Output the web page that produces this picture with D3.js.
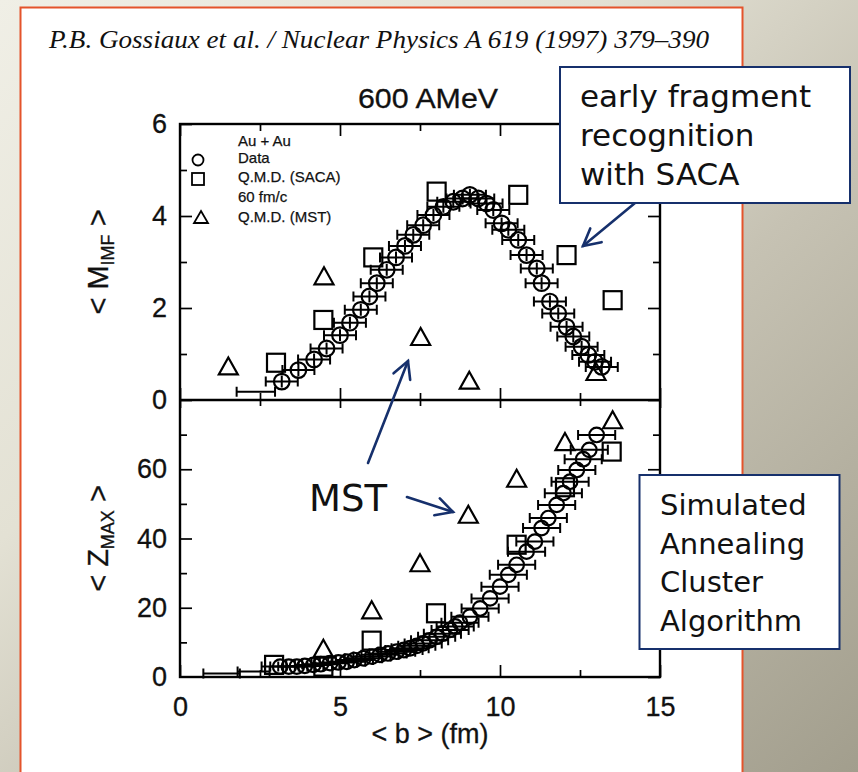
<!DOCTYPE html>
<html>
<head>
<meta charset="utf-8">
<script src="https://cdn.jsdelivr.net/npm/d3@7"></script>
<style>
  html, body { margin: 0; padding: 0; overflow: hidden; background: #e4e2d5; }
</style>
</head>
<body>
<svg id="chart" width="858" height="772"></svg>
<script>
// ---------------- data: Au + Au at 600 AMeV ----------------
// each entry: [<b> (fm), value]
const imfData = [
  [3.18,0.40],[3.70,0.65],[4.19,0.88],[4.58,1.12],[5.00,1.41],[5.31,1.68],
  [5.65,1.96],[5.92,2.25],[6.15,2.54],[6.46,2.83],[6.75,3.10],[7.03,3.35],
  [7.29,3.59],[7.60,3.80],[7.92,4.02],[8.23,4.20],[8.54,4.31],[8.83,4.38],
  [9.06,4.46],[9.32,4.38],[9.58,4.27],[9.79,4.13],[10.05,3.84],[10.26,3.70],
  [10.57,3.48],[10.83,3.15],[11.15,2.86],[11.30,2.54],[11.56,2.14],[11.82,1.88],
  [12.08,1.59],[12.29,1.38],[12.55,1.16],[12.76,0.98],[12.97,0.83],[13.18,0.72]
];
const imfSaca = [[3.00,0.81],[4.48,1.74],[6.04,3.10],[8.02,4.53],[10.57,4.46],[12.08,3.15],[13.52,2.17]];
const imfMst  = [[1.51,0.74],[4.50,2.70],[7.52,1.38],[9.04,0.43],[13.00,0.62]];
// lowest impact-parameter bin, shown with its error bar only: [b, value, half width]
const imfLowBins = [[2.37,0.18,0.60]];

const zmaxData = [
  [3.13,3.0],[3.40,3.0],[3.65,3.0],[3.90,3.2],[4.17,3.5],[4.40,3.7],[4.69,4.0],
  [4.95,4.2],[5.21,4.4],[5.45,4.9],[5.73,5.4],[6.00,5.9],[6.25,6.4],[6.50,6.8],
  [6.77,7.3],[7.00,7.8],[7.19,8.3],[7.40,9.0],[7.60,9.7],[7.80,10.6],[8.02,11.6],
  [8.20,12.5],[8.44,13.6],[8.60,14.6],[8.75,15.7],[9.06,17.4],[9.38,19.8],[9.69,22.7],
  [10.00,26.1],[10.26,29.5],[10.52,32.4],[10.83,36.2],[11.09,39.1],[11.30,43.0],
  [11.51,45.9],[11.77,49.7],[11.98,53.1],[12.19,56.4],[12.40,59.8],[12.60,62.9],
  [12.79,65.6],[13.02,69.9]
];
const zmaxSaca = [[2.94,3.5],[4.48,3.0],[5.99,10.5],[8.00,18.4],[10.52,38.2],[12.03,54.8],[13.49,65.1]];
const zmaxMst  = [[4.48,8.3],[5.99,19.4],[7.50,33.0],[9.01,47.0],[10.52,57.4],[12.03,68.0],[13.52,74.3]];
const zmaxLowBins = [[1.30,1.0,0.57],[2.30,1.6,0.50]];

// error bar half widths in <b> (fm) and in the panel value
const imfErrB = 0.5, imfErrV = 0.13;
const zmaxErrB = 0.58, zmaxErrV = 0;

// axis ticks
const bTicks = [0, 5, 10, 15];
const bMinor = [2.5, 7.5, 12.5];
const imfTicks = [0, 2, 4, 6];
const imfMinor = [1, 3, 5];
const zTicks = [0, 20, 40, 60];
const zMinor = [10, 30, 50, 70];

// text
const headerText = "P.B. Gossiaux et al. / Nuclear Physics A 619 (1997) 379\u2013390";
const titleText = "600 AMeV";
const legendLines = ["Au + Au", "Data", "Q.M.D. (SACA)", "60 fm/c", "Q.M.D. (MST)"];
const sacaNote = ["early fragment", "recognition", "with SACA"];
const acronymNote = ["Simulated", "Annealing", "Cluster", "Algorithm"];

// ---------------- layout ----------------
const W = 858, H = 772;
const frame = { left: 180, right: 660, top: 124, mid: 400, bottom: 677 };
const SANS = "'Liberation Sans', Arial, Helvetica, sans-serif";
const NOTE = "'DejaVu Sans', Verdana, sans-serif";
const NAVY = "#16306c";

const svg = d3.select("#chart");

// slide background and page
const defs = svg.append("defs");
const grad = defs.append("linearGradient").attr("id", "slideBg")
  .attr("x1", 0).attr("y1", 0).attr("x2", 1).attr("y2", 1);
[[0, "#f0efe6"], [0.35, "#e3e1d4"], [0.6, "#c6c2b3"], [1, "#a29e8d"]]
  .forEach(([o, c]) => grad.append("stop").attr("offset", o).attr("stop-color", c));
svg.append("rect").attr("width", W).attr("height", H).attr("fill", "url(#slideBg)");
svg.append("rect").attr("x", 20.5).attr("y", 7.5).attr("width", 722).attr("height", 800)
  .attr("fill", "#ffffff").attr("stroke", "#e4532b").attr("stroke-width", 2);

svg.append("text").attr("x", 49).attr("y", 48)
  .attr("font-family", "'Liberation Serif', 'Times New Roman', serif")
  .attr("font-style", "italic").attr("font-size", 25).attr("fill", "#111")
  .attr("textLength", 660).attr("lengthAdjust", "spacingAndGlyphs")
  .text(headerText);

svg.append("text").attr("x", 358).attr("y", 108)
  .attr("font-family", SANS).attr("font-size", 28).attr("fill", "#111")
  .attr("stroke", "#111").attr("stroke-width", 0.3)
  .attr("textLength", 140).attr("lengthAdjust", "spacingAndGlyphs")
  .text(titleText);

// scales
const x = d3.scaleLinear().domain([0, 15]).range([frame.left, frame.right]);
const yImf = d3.scaleLinear().domain([0, 6]).range([frame.mid, frame.top]);
const yZ = d3.scaleLinear().domain([0, 80]).range([frame.bottom, frame.mid]);

// axes (ticks point inward)
function addAxis(axis, tx, ty, labelled) {
  const g = svg.append("g").attr("transform", `translate(${tx},${ty})`).call(axis);
  g.select(".domain").remove();
  g.selectAll("line").attr("stroke", "#000").attr("stroke-width", 1.7);
  if (labelled) {
    g.selectAll("text").attr("font-family", SANS).attr("font-size", 27).attr("fill", "#111")
      .attr("stroke", "#111").attr("stroke-width", 0.3);
  } else {
    g.selectAll("text").remove();
  }
  return g;
}
const fmt = d3.format("d");
// left
addAxis(d3.axisLeft(yImf).tickValues(imfTicks).tickSizeInner(-12).tickSizeOuter(0).tickPadding(13).tickFormat(fmt), frame.left, 0, true);
addAxis(d3.axisLeft(yImf).tickValues(imfMinor).tickSizeInner(-7).tickSizeOuter(0), frame.left, 0, false);
addAxis(d3.axisLeft(yZ).tickValues(zTicks.filter(d => d > 0)).tickSizeInner(-12).tickSizeOuter(0).tickPadding(13).tickFormat(fmt), frame.left, 0, true);
addAxis(d3.axisLeft(yZ).tickValues([0]).tickSizeInner(0).tickSizeOuter(0).tickPadding(13).tickFormat(fmt), frame.left, 0, true);
addAxis(d3.axisLeft(yZ).tickValues(zMinor).tickSizeInner(-7).tickSizeOuter(0), frame.left, 0, false);
// right
addAxis(d3.axisRight(yImf).tickValues(imfTicks).tickSizeInner(-12).tickSizeOuter(0), frame.right, 0, false);
addAxis(d3.axisRight(yImf).tickValues(imfMinor).tickSizeInner(-7).tickSizeOuter(0), frame.right, 0, false);
addAxis(d3.axisRight(yZ).tickValues(zTicks).tickSizeInner(-12).tickSizeOuter(0), frame.right, 0, false);
addAxis(d3.axisRight(yZ).tickValues(zMinor).tickSizeInner(-7).tickSizeOuter(0), frame.right, 0, false);
// bottom (labelled)
addAxis(d3.axisBottom(x).tickValues(bTicks).tickSizeInner(-12).tickSizeOuter(0).tickPadding(20).tickFormat(fmt), 0, frame.bottom, true);
addAxis(d3.axisBottom(x).tickValues(bMinor).tickSizeInner(-7).tickSizeOuter(0), 0, frame.bottom, false);
// top of upper panel
addAxis(d3.axisTop(x).tickValues(bTicks).tickSizeInner(-12).tickSizeOuter(0), 0, frame.top, false);
addAxis(d3.axisTop(x).tickValues(bMinor).tickSizeInner(-7).tickSizeOuter(0), 0, frame.top, false);
// shared middle line: ticks up into the upper panel and down into the lower one
addAxis(d3.axisBottom(x).tickValues(bTicks).tickSizeInner(-12).tickSizeOuter(0), 0, frame.mid, false);
addAxis(d3.axisBottom(x).tickValues(bMinor).tickSizeInner(-7).tickSizeOuter(0), 0, frame.mid, false);
addAxis(d3.axisTop(x).tickValues(bTicks).tickSizeInner(-8).tickSizeOuter(0), 0, frame.mid, false);
addAxis(d3.axisTop(x).tickValues(bMinor).tickSizeInner(-6).tickSizeOuter(0), 0, frame.mid, false);

// frame
svg.append("rect").attr("x", frame.left).attr("y", frame.top)
  .attr("width", frame.right - frame.left).attr("height", frame.bottom - frame.top)
  .attr("fill", "none").attr("stroke", "#000").attr("stroke-width", 2.4);
svg.append("line").attr("x1", frame.left).attr("x2", frame.right)
  .attr("y1", frame.mid).attr("y2", frame.mid).attr("stroke", "#000").attr("stroke-width", 2.4);

// axis titles
const yt1 = svg.append("text").attr("transform", `translate(108,${(frame.top + frame.mid) / 2}) rotate(-90)`)
  .attr("text-anchor", "middle").attr("font-family", SANS).attr("font-size", 29).attr("fill", "#111")
  .attr("stroke", "#111").attr("stroke-width", 0.3);
yt1.append("tspan").text("< M");
yt1.append("tspan").attr("font-size", 18).attr("dy", 6).text("IMF");
yt1.append("tspan").attr("dy", -6).text(" >");
const yt2 = svg.append("text").attr("transform", `translate(108,${(frame.mid + frame.bottom) / 2}) rotate(-90)`)
  .attr("text-anchor", "middle").attr("font-family", SANS).attr("font-size", 29).attr("fill", "#111")
  .attr("stroke", "#111").attr("stroke-width", 0.3);
yt2.append("tspan").text("< Z");
yt2.append("tspan").attr("font-size", 18).attr("dy", 6).text("MAX");
yt2.append("tspan").attr("dy", -6).text(" >");
svg.append("text").attr("x", 430).attr("y", 743).attr("text-anchor", "middle")
  .attr("font-family", SANS).attr("font-size", 27).attr("fill", "#111")
  .attr("stroke", "#111").attr("stroke-width", 0.3).text("< b > (fm)");

// ---------------- marks ----------------
const ink = { stroke: "#000", "stroke-width": 2.2, fill: "none" };
function style(sel) { Object.entries(ink).forEach(([k, v]) => sel.attr(k, v)); return sel; }

function drawErrorBars(g, data, yScale, errB, errV) {
  const cap = 5;
  data.forEach(d => {
    const eb = d.length > 2 ? d[2] : errB;
    const cy = yScale(d[1]);
    const x0 = x(d[0] - eb), x1 = x(d[0] + eb);
    const p = d3.path();
    p.moveTo(x0, cy); p.lineTo(x1, cy);
    p.moveTo(x0, cy - cap); p.lineTo(x0, cy + cap);
    p.moveTo(x1, cy - cap); p.lineTo(x1, cy + cap);
    if (errV > 0 && d.length === 2) {
      p.moveTo(x(d[0]), yScale(d[1] - errV)); p.lineTo(x(d[0]), yScale(d[1] + errV));
    }
    style(g.append("path").attr("d", p.toString())).attr("stroke-width", 2);
  });
}
function drawCircles(g, data, yScale, r) {
  style(g.selectAll(null).data(data).join("circle")
    .attr("cx", d => x(d[0])).attr("cy", d => yScale(d[1])).attr("r", r));
}
function drawSquares(g, data, yScale, s) {
  style(g.selectAll(null).data(data).join("rect")
    .attr("x", d => x(d[0]) - s / 2).attr("y", d => yScale(d[1]) - s / 2)
    .attr("width", s).attr("height", s));
}
function trianglePath(cx, cy, w, h) {
  return `M${cx},${cy - h / 2}L${cx + w / 2},${cy + h / 2}L${cx - w / 2},${cy + h / 2}Z`;
}
function drawTriangles(g, data, yScale, w, h) {
  style(g.selectAll(null).data(data).join("path")
    .attr("d", d => trianglePath(x(d[0]), yScale(d[1]), w, h)));
}

const upper = svg.append("g");
drawErrorBars(upper, imfLowBins, yImf, imfErrB, 0);
drawErrorBars(upper, imfData, yImf, imfErrB, imfErrV);
drawCircles(upper, imfData, yImf, 7.8);
drawSquares(upper, imfSaca, yImf, 18);
drawTriangles(upper, imfMst, yImf, 19, 17);

const lower = svg.append("g");
drawErrorBars(lower, zmaxLowBins, yZ, zmaxErrB, 0);
drawErrorBars(lower, zmaxData, yZ, zmaxErrB, zmaxErrV);
drawCircles(lower, zmaxData, yZ, 7.3);
drawSquares(lower, zmaxSaca, yZ, 18);
drawTriangles(lower, zmaxMst, yZ, 19, 17);

// legend
const legend = svg.append("g").attr("font-family", SANS).attr("font-size", 15).attr("fill", "#111")
  .attr("stroke", "#111").attr("stroke-width", 0.25);
const legendY = [146, 163, 182, 202, 222];
legendLines.forEach((t, i) => legend.append("text").attr("x", 238).attr("y", legendY[i]).text(t));
style(legend.append("circle").attr("cx", 198).attr("cy", 160).attr("r", 5.5)).attr("stroke-width", 1.8);
style(legend.append("rect").attr("x", 192).attr("y", 173).attr("width", 12).attr("height", 12)).attr("stroke-width", 1.8);
style(legend.append("path").attr("d", trianglePath(201, 217, 14, 12))).attr("stroke-width", 1.8);

// ---------------- annotations ----------------
function arrow(x1, y1, x2, y2) {
  const g = svg.append("g").attr("stroke", NAVY).attr("stroke-width", 2.6).attr("fill", "none")
    .attr("stroke-linecap", "round");
  g.append("line").attr("x1", x1).attr("y1", y1).attr("x2", x2).attr("y2", y2);
  const a = Math.atan2(y1 - y2, x1 - x2), len = 19, spread = 28 * Math.PI / 180;
  const p = d3.path();
  p.moveTo(x2 + len * Math.cos(a - spread), y2 + len * Math.sin(a - spread));
  p.lineTo(x2, y2);
  p.lineTo(x2 + len * Math.cos(a + spread), y2 + len * Math.sin(a + spread));
  g.append("path").attr("d", p.toString()).attr("stroke-linejoin", "miter");
}
function noteBox(bx, by, bw, bh, lines, tx, ty0, step, size) {
  svg.append("rect").attr("x", bx).attr("y", by).attr("width", bw).attr("height", bh)
    .attr("fill", "#fff").attr("stroke", NAVY).attr("stroke-width", 2);
  const t = svg.append("g").attr("font-family", NOTE).attr("font-size", size).attr("fill", "#111");
  lines.forEach((s, i) => t.append("text").attr("x", tx).attr("y", ty0 + i * step).text(s));
}

arrow(635, 203, 583, 246);
noteBox(560, 67, 290, 136, sacaNote, 580, 107, 39, 31);
noteBox(639.5, 475, 200, 174, acronymNote, 660, 515, 38.7, 29);

svg.append("text").attr("x", 309).attr("y", 511).attr("font-family", NOTE)
  .attr("font-size", 37).attr("fill", "#111").text("MST");
arrow(368, 463, 408, 361);
arrow(407, 497, 453, 512);
</script>
</body>
</html>
